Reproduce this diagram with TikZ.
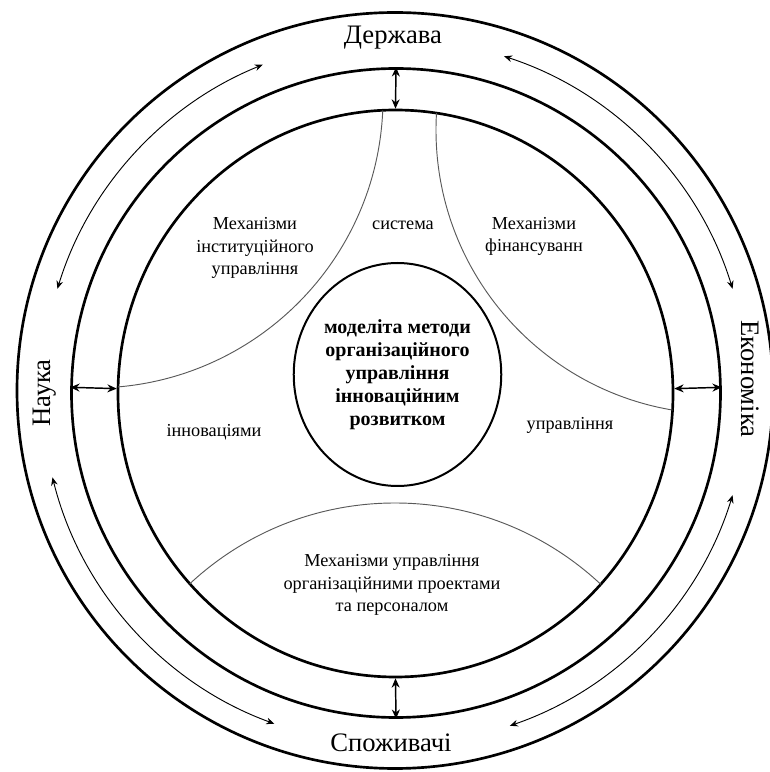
\documentclass[tikz,border=0pt]{standalone}
\usepackage{fontspec}
\setmainfont{Liberation Serif}
\usetikzlibrary{shapes.geometric,arrows.meta,calc}

\begin{document}
\begin{tikzpicture}[
    x=0.75pt, y=0.75pt,
    ring/.style={draw, circle, line width=2pt, inner sep=0pt},
    innring/.style={draw, ellipse, line width=2pt, inner sep=0pt, minimum width=416.25pt, minimum height=425.25pt},
    core/.style={draw, ellipse, line width=1.5pt, inner sep=0pt, minimum width=153pt, minimum height=167.25pt, align=center, font=\bfseries\fontsize{15}{17.25}\selectfont},
    divider/.style={draw=black!65, line width=0.7pt},
    ringlabel/.style={font=\fontsize{20}{24}\selectfont},
    mech/.style={align=center, font=\fontsize{13.7}{16.9}\selectfont},
    link/.style={{Stealth[length=7pt,width=6pt]}-{Stealth[length=7pt,width=6pt]}, line width=1.1pt},
    flow/.style={{Stealth[length=6pt,width=5pt]}-{Stealth[length=6pt,width=5pt]}, line width=0.7pt}
]
\useasboundingbox (0,0) rectangle (769,772);
\coordinate (o) at (395,380);

\node[ring, minimum size=567pt] (outer) at (395,381.5) {};
\node[ring, minimum size=486.75pt] (mid) at (396,379) {};
\node[innring] (inn) at (395.5,378.5) {};

\begin{scope}
\clip (395.5,378.5) ellipse [x radius=277.5, y radius=283.5];
\draw[divider] (93,674) circle [radius=290];
\draw[divider] (720,642) circle [radius=284];
\draw[divider] (395,-32) circle [radius=301];
\end{scope}

\node[core] (core) at (397.5,397.5) {моделіта методи\\організаційного\\управління\\інноваційним\\розвитком};

\node[ringlabel] (state) at (393,734) {Держава};
\node[ringlabel, rotate=90] (science) at (45,379) {Наука};
\node[ringlabel, rotate=-90] (economy) at (750,393) {Економіка};
\node[ringlabel] (consumers) at (391,29) {Споживачі};

\node[mech] (inst) at (255,524) {Механізми\\інституційного\\управління};
\node[mech] (sys) at (403,547) {система};
\node[mech] (fin) at (534,535.5) {Механізми\\фінансуванн};
\node[mech] (innov) at (214,340) {інноваціями};
\node[mech] (mgmt) at (570,347) {управління};
\node[mech] (proj) at (392,187) {Механізми управління\\організаційними проектами\\та персоналом};

\draw[link] (mid.north) -- (inn.north);
\draw[link] (mid.179) -- (inn.179);
\draw[link] (mid.1) -- (inn.1);
\draw[link] (mid.south) -- (inn.south);

\coordinate (tl) at ($(o)+(163:353)$);
\coordinate (tr) at ($(o)+(72:353)$);
\coordinate (bl) at ($(o)+(194:353)$);
\coordinate (br) at ($(o)+(289:353)$);
\draw[flow] (tl) arc [start angle=163, end angle=112, radius=353];
\draw[flow] (tr) arc [start angle=72, end angle=17, radius=353];
\draw[flow] (bl) arc [start angle=194, end angle=250, radius=353];
\draw[flow] (br) arc [start angle=289, end angle=343, radius=353];
\end{tikzpicture}
\end{document}
